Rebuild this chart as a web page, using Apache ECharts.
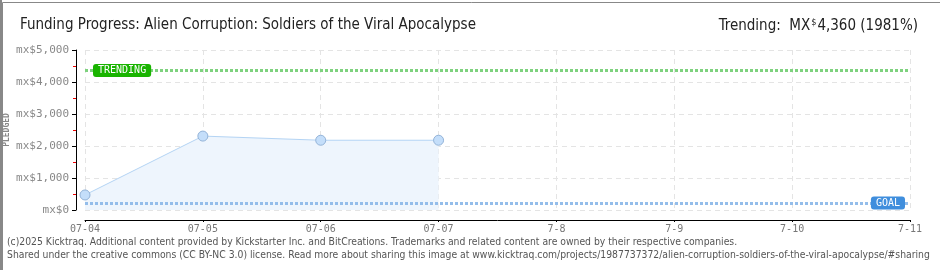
<!DOCTYPE html>
<html><head><meta charset="utf-8">
<style>html,body{margin:0;padding:0;background:#fff}#c{width:940px;height:270px}</style>
<script src="https://cdn.jsdelivr.net/npm/echarts@6/dist/echarts.min.js"></script>
</head><body><div id="c"></div>
<script>
const dayLabels = ['07-04','07-05','07-06','07-07','7-8','7-9','7-10','7-11'];
const pledgeDays = [0, 1, 2, 3];
const pledgeValues = [470, 2310, 2180, 2180];
const goalValue = 220;
const trendingValue = 4360;
const titleText = 'Funding Progress: Alien Corruption: Soldiers of the Viral Apocalypse';
const footer1 = '(c)2025 Kicktraq. Additional content provided by Kickstarter Inc. and BitCreations. Trademarks and related content are owned by their respective companies.';
const footer2 = 'Shared under the creative commons (CC BY-NC 3.0) license. Read more about sharing this image at www.kicktraq.com/projects/1987737372/alien-corruption-soldiers-of-the-viral-apocalypse/#sharing';

const TF = '"DejaVu Sans Condensed", "DejaVu Sans"';
const chart = echarts.init(document.getElementById('c'), null, {renderer:'canvas'});
const fmt = v => 'mx$' + v.toLocaleString('en-US');
chart.setOption({
  animation:false,
  backgroundColor:'#fff',
  title:[
    {text:titleText, left:15, top:13, textStyle:{fontFamily:TF, fontSize:15, fontWeight:'normal', color:'#222'}},
    {text:'{a|Trending:  MX}{s|$}{a|4,360 (1981%)}', right:17, top:13,
     textStyle:{rich:{a:{fontFamily:TF, fontSize:15, fontWeight:'normal', color:'#222'}, s:{fontFamily:TF, fontSize:9, fontWeight:'normal', color:'#222', verticalAlign:'top', padding:[0,1,8,1]}}}}
  ],
  grid:{left:85, right:30, top:50, bottom:60},
  xAxis:{type:'value', min:0, max:7, interval:1, offset:10,
    axisLine:{show:true, onZero:false, lineStyle:{color:'#000', width:1}},
    axisTick:{show:true, inside:false, length:2, lineStyle:{color:'#000'}},
    axisLabel:{formatter:v=>dayLabels[v], margin:4, color:'#777', fontFamily:'DejaVu Sans Mono', fontSize:10},
    splitLine:{show:true, lineStyle:{color:'#e4e4e4', type:[5,4]}}},
  yAxis:{type:'value', min:0, max:5000, interval:1000, offset:9,
    axisLine:{show:true, onZero:false, lineStyle:{color:'#000', width:1}},
    axisTick:{show:true, length:4, lineStyle:{color:'#000'}},
    minorTick:{show:true, splitNumber:2, length:3, lineStyle:{color:'#e00'}},
    axisLabel:{formatter:fmt, margin:7, color:'#888', fontFamily:'DejaVu Sans Mono', fontSize:11},
    splitLine:{show:true, lineStyle:{color:'#e4e4e4', type:[5,4]}}},
  series:[{
    type:'line', data:pledgeDays.map((d,i)=>[d,pledgeValues[i]]),
    symbol:'circle', symbolSize:10,
    itemStyle:{color:'#c4defa', borderColor:'#93b3d8', borderWidth:1},
    lineStyle:{color:'#b4d4f4', width:1},
    areaStyle:{color:'#eef5fd', opacity:1},
    markLine:{silent:true, symbol:'none',
      data:[
        {yAxis:trendingValue, lineStyle:{color:'#7ed27e', width:3, type:[3,2]},
         label:{show:true, formatter:'TRENDING', position:'insideStart', distance:[8,0], color:'#fff', backgroundColor:'#19b400', borderRadius:3, padding:[2,5,1,5], fontFamily:'DejaVu Sans Mono', fontSize:10}},
        {yAxis:goalValue, lineStyle:{color:'#94bdea', width:3, type:[3,2]},
         label:{show:true, formatter:'GOAL', position:'insideEnd', distance:[5,0], color:'#fff', backgroundColor:'#3f8edd', borderRadius:3, padding:[2,5,1,5], fontFamily:'DejaVu Sans Mono', fontSize:10}}
      ]}
  }],
  graphic:[
    {type:'rect', left:0, top:0, shape:{x:0.5,y:0.5,width:939,height:269}, style:{fill:'none', stroke:'#888', lineWidth:1}, silent:true},
    {type:'rect', left:0, top:0, shape:{x:0,y:0,width:2,height:270}, style:{fill:'#888'}, silent:true},
    {type:'text', x:7, y:130, rotation:Math.PI/2, style:{text:'PLEDGED', fill:'#888', font:'bold 8px DejaVu Sans Mono', textAlign:'center', textVerticalAlign:'middle'}},
    {type:'text', x:7, y:237, style:{text:footer1, fill:'#555', font:'10.3px "DejaVu Sans Condensed", "DejaVu Sans"'}},
    {type:'text', x:7, y:250, style:{text:footer2, fill:'#555', font:'10.3px "DejaVu Sans Condensed", "DejaVu Sans"'}}
  ]
});
</script></body></html>
